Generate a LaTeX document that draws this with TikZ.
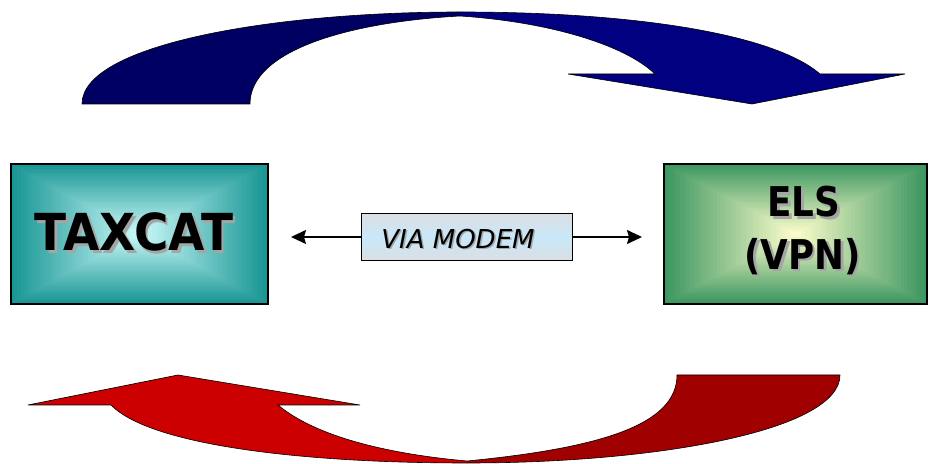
\documentclass[tikz,border=0pt]{standalone}
\usepackage{fontspec}
\newfontfamily\dvs{DejaVu Sans}
\usetikzlibrary{arrows.meta}
\definecolor{navyL}{RGB}{0,0,98}
\definecolor{navyR}{RGB}{0,0,128}
\definecolor{redL}{RGB}{204,0,0}
\definecolor{redR}{RGB}{160,0,0}
\definecolor{tealO}{RGB}{24,150,148}
\definecolor{tealI}{RGB}{205,250,250}
\definecolor{greenO}{RGB}{60,150,96}
\definecolor{greenI}{RGB}{255,255,205}
\definecolor{shadowgray}{RGB}{165,165,165}
\definecolor{modemblue}{RGB}{200,232,250}
\definecolor{modemgray}{RGB}{220,222,226}
\tikzset{
  bigtext/.style={font=\dvs\bfseries, inner sep=0pt, text=black},
  outline/.style={draw=black, line width=0.6bp},
  conn/.style={line width=1.4bp, -{Stealth[length=15bp,width=14bp,inset=2bp]}},
}
% text with a gray drop shadow inside one box
\newcommand{\shadowed}[3]{% dx dy text
  \makebox[0pt][l]{\hspace{#1}\raisebox{-#2}{\textcolor{shadowgray}{#3}}}#3}
\newcommand{\pyrbox}[6]{% x1 y1 x2 y2 outer inner
  \foreach \i in {0,...,40}{
    \pgfmathsetmacro{\t}{\i/40}
    \pgfmathsetmacro{\pc}{100*\t}
    \pgfmathsetmacro{\cx}{(#1+#3)/2}
    \pgfmathsetmacro{\cy}{(#2+#4)/2}
    \pgfmathsetmacro{\hw}{(#3-#1)/2*(1-\t)}
    \pgfmathsetmacro{\hh}{(#4-#2)/2*(1-\t)}
    \fill[#6!\pc!#5] (\cx-\hw,\cy-\hh) rectangle (\cx+\hw,\cy+\hh);
  }
}
\begin{document}
\begin{tikzpicture}[x=1bp,y=-1bp]
\useasboundingbox (0,0) rectangle (929,464);
\fill[white] (0,0) rectangle (929,464);

% ---- top blue curved arrow ----
\fill[navyL] (82,104) .. controls (82,45) and (270,12) .. (460,12)
  -- (460,16) .. controls (350,22) and (250,50) .. (250,104) -- cycle;
\fill[navyR] (460,12) .. controls (640,12) and (775,35) .. (820,74)
  -- (905,74) -- (752,104) -- (568,74) -- (655,74)
  .. controls (625,45) and (550,22) .. (460,16) -- cycle;
\draw[outline] (82,104) .. controls (82,45) and (270,12) .. (460,12)
  .. controls (640,12) and (775,35) .. (820,74)
  -- (905,74) -- (752,104) -- (568,74) -- (655,74)
  .. controls (625,45) and (550,22) .. (460,16)
  .. controls (350,22) and (250,50) .. (250,104) -- cycle;

% ---- bottom red curved arrow ----
\fill[redR] (840,375) .. controls (840,430) and (660,463) .. (467,463)
  -- (467,461) .. controls (600,448) and (677,425) .. (677,375) -- cycle;
\fill[redL] (467,463) .. controls (300,463) and (150,445) .. (111,405)
  -- (28,405) -- (178,375) -- (360,405) -- (278,405)
  .. controls (320,440) and (400,455) .. (467,461) -- cycle;
\draw[outline] (840,375) .. controls (840,430) and (660,463) .. (467,463)
  .. controls (300,463) and (150,445) .. (111,405)
  -- (28,405) -- (178,375) -- (360,405) -- (278,405)
  .. controls (320,440) and (400,455) .. (467,461)
  .. controls (600,448) and (677,425) .. (677,375) -- cycle;

% ---- TAXCAT box ----
\pyrbox{11}{164}{268}{304}{tealO}{tealI}
\node[draw=black, line width=1.2bp, minimum width=257bp, minimum height=140bp, inner sep=0pt] (taxcat) at (139.5,234) {};
\node[bigtext] (taxcattext) at (134,233.5) {\fontsize{51bp}{60bp}\selectfont\scalebox{0.92}[1]{\shadowed{3bp}{3bp}{TAXCAT}}};

% ---- ELS box ----
\pyrbox{664}{164}{927}{304}{greenO}{greenI}
\node[draw=black, line width=1.2bp, minimum width=263bp, minimum height=140bp, inner sep=0pt] (els) at (795.5,234) {};
\node[bigtext] (elstext) at (804,203) {\fontsize{41bp}{54bp}\selectfont\scalebox{0.87}[1]{\shadowed{3bp}{2.5bp}{ELS}}};
\node[bigtext] (vpntext) at (802.5,257.5) {\fontsize{41bp}{54bp}\selectfont\scalebox{0.87}[1]{\shadowed{3bp}{2.5bp}{(VPN)}}};

% ---- VIA MODEM box ----
\shade[top color=modemgray, bottom color=modemgray, middle color=modemblue] (361,214) rectangle (572,261);
\node[draw=black, line width=1bp, minimum width=211bp, minimum height=47bp, inner sep=0pt] (modem) at (466.5,237) {};
\node[font=\dvs\itshape, inner sep=0pt] (modemtext) at (458,239.5) {\fontsize{26bp}{30bp}\selectfont\shadowed{1.5bp}{1.5bp}{VIA MODEM}};

\coordinate (lefttip) at (291,237);
\coordinate (righttip) at (642,237);
\draw[conn] (modem.west) -- (lefttip);
\draw[conn] (modem.east) -- (righttip);
\end{tikzpicture}
\end{document}
